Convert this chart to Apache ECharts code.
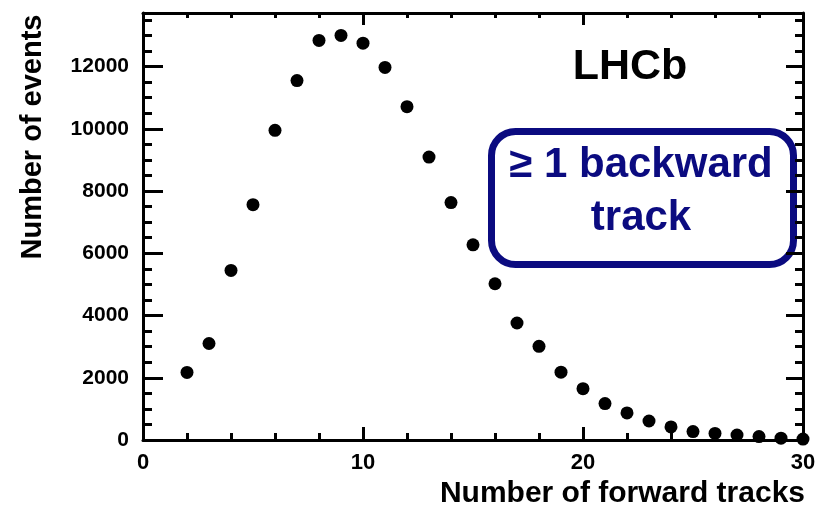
<!DOCTYPE html>
<html>
<head>
<meta charset="utf-8">
<script src="https://cdn.jsdelivr.net/npm/echarts@6/dist/echarts.min.js"></script>
<style>
  html, body { margin: 0; padding: 0; background: #fff; }
  #chart { width: 831px; height: 509px; }
</style>
</head>
<body>
<div id="chart"></div>
<script>
// Number of forward tracks per event (bin centres)
const forwardTracks = [2, 3, 4, 5, 6, 7, 8, 9, 10, 11, 12, 13, 14, 15, 16,
  17, 18, 19, 20, 21, 22, 23, 24, 25, 26, 27, 28, 29, 30];
// Event counts per bin
const eventCounts = [2170, 3100, 5450, 7560, 9950, 11550, 12840, 13000, 12750,
  11970, 10710, 9090, 7630, 6270, 5020, 3760, 3010, 2180, 1650, 1170, 870,
  610, 420, 270, 210, 160, 110, 60, 30];

const xRange = [0, 30];
const yRange = [0, 13720];

const FONT = '"Liberation Sans", Arial, Helvetica, sans-serif';
const NAVY = '#0b0b80';

const chart = echarts.init(document.getElementById('chart'), null, { renderer: 'canvas' });

const plainNumber = v => String(v);

function xAxisDef(pos, majorLen, minorLen, showLabels) {
  return {
    type: 'value', position: pos, min: xRange[0], max: xRange[1], interval: 10,
    axisLine: { show: true, onZero: false, lineStyle: { color: '#000', width: 3 } },
    axisTick: { show: true, inside: true, length: majorLen, lineStyle: { color: '#000', width: 3 } },
    minorTick: { show: true, splitNumber: 5, length: minorLen, lineStyle: { color: '#000', width: 3 } },
    axisLabel: {
      show: showLabels, margin: 12, color: '#000', formatter: plainNumber,
      fontFamily: FONT, fontWeight: 'bold', fontSize: 22
    },
    splitLine: { show: false }, minorSplitLine: { show: false }
  };
}

function yAxisDef(pos, interval, tickLen, showLine, showLabels) {
  return {
    type: 'value', position: pos, min: yRange[0], max: yRange[1], interval: interval,
    axisLine: { show: showLine, onZero: false, lineStyle: { color: '#000', width: 3 } },
    axisTick: { show: true, inside: true, length: tickLen, lineStyle: { color: '#000', width: 3 } },
    axisLabel: {
      show: showLabels, showMaxLabel: false, margin: 14, color: '#000', formatter: plainNumber,
      fontFamily: FONT, fontWeight: 'bold', fontSize: 21
    },
    splitLine: { show: false }
  };
}

const option = {
  backgroundColor: '#fff',
  animation: false,
  grid: { left: 143, right: 28, top: 13, bottom: 69, containLabel: false },
  xAxis: [
    xAxisDef('bottom', 13, 7, true),
    xAxisDef('top', 12, 5, false)
  ],
  yAxis: [
    yAxisDef('left', 2000, 20, true, true),
    yAxisDef('left', 500, 9, false, false),
    yAxisDef('right', 2000, 17, true, false),
    yAxisDef('right', 500, 8, false, false)
  ],
  series: [{
    type: 'scatter',
    xAxisIndex: 0, yAxisIndex: 0,
    symbol: 'circle', symbolSize: 13,
    itemStyle: { color: '#000', opacity: 1 },
    data: forwardTracks.map((x, i) => [x, eventCounts[i]])
  }],
  graphic: [
    {
      type: 'text', x: 805, y: 494,
      style: {
        text: 'Number of forward tracks', align: 'right', verticalAlign: 'middle',
        font: 'bold 30px ' + FONT, fill: '#000'
      }
    },
    {
      type: 'text', x: 33, y: 137, rotation: Math.PI / 2,
      style: {
        text: 'Number of events', align: 'center', verticalAlign: 'middle',
        font: 'bold 29px ' + FONT, fill: '#000'
      }
    },
    {
      type: 'text', x: 630, y: 67,
      style: {
        text: 'LHCb', align: 'center', verticalAlign: 'middle',
        font: 'bold 43px ' + FONT, fill: '#000'
      }
    },
    {
      type: 'rect',
      shape: { x: 491.5, y: 131.5, width: 302, height: 133, r: 24 },
      style: { fill: '#fff', stroke: NAVY, lineWidth: 7 }
    },
    {
      type: 'text', x: 641, y: 165,
      style: {
        text: '\u2265 1 backward', align: 'center', verticalAlign: 'middle',
        font: 'bold 42px ' + FONT, fill: NAVY
      }
    },
    {
      type: 'text', x: 641, y: 218,
      style: {
        text: 'track', align: 'center', verticalAlign: 'middle',
        font: 'bold 42px ' + FONT, fill: NAVY
      }
    }
  ]
};

chart.setOption(option);
</script>
</body>
</html>
